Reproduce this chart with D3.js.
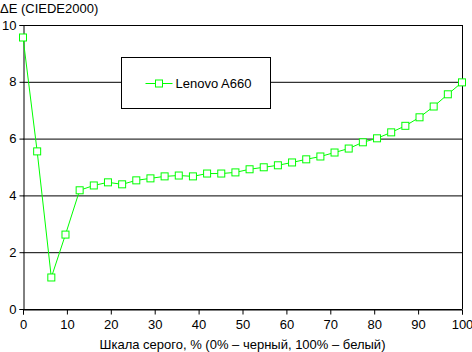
<!DOCTYPE html>
<html lang="ru">
<head>
  <meta charset="UTF-8">
  <title>ΔE (CIEDE2000)</title>
  <script src="https://d3js.org/d3.v7.min.js"></script>
  <style>
    body { margin: 0; background: #fff; }
    svg { display: block; font-family: "Liberation Sans", Arial, sans-serif; }
    .tick text { font-size: 13px; fill: #000; }
  </style>
</head>
<body>
<svg width="472" height="352"></svg>
<script>
  const seriesName = "Lenovo A660";
  const deltaE = [9.56, 5.55, 1.11, 2.62, 4.18, 4.35, 4.46, 4.39, 4.53, 4.60,
                  4.67, 4.70, 4.67, 4.77, 4.77, 4.81, 4.92, 4.99, 5.06, 5.16,
                  5.27, 5.37, 5.51, 5.65, 5.87, 6.01, 6.22, 6.45, 6.75, 7.13,
                  7.56, 7.98];
  const xTicks = [0, 10, 20, 30, 40, 50, 60, 70, 80, 90, 100];
  const yTicks = [0, 2, 4, 6, 8, 10];

  const data = deltaE.map((v, i) => ({x: i * 100 / (deltaE.length - 1), y: v}));

  const svg = d3.select("svg"),
        margin = {top: 25, right: 10, bottom: 43, left: 23},
        width = 472 - margin.left - margin.right,
        height = 352 - margin.top - margin.bottom;

  const chart = svg.append("g")
      .attr("transform", `translate(${margin.left},${margin.top})`);

  const x = d3.scaleLinear().domain([0, 100]).range([0, width]);
  const y = d3.scaleLinear().domain([0, 10]).range([height, 0]);

  // Grid lines
  chart.append("g")
      .selectAll("line")
      .data(yTicks)
      .enter().append("line")
      .attr("x1", 0).attr("x2", width)
      .attr("y1", d => y(d) + 0.5).attr("y2", d => y(d) + 0.5)
      .attr("stroke", "#000");

  // right border
  chart.append("line")
      .attr("x1", width + 0.5).attr("x2", width + 0.5)
      .attr("y1", 0).attr("y2", height)
      .attr("stroke", "#000");

  // Y-axis
  const yAxis = chart.append("g")
      .attr("transform", "translate(0.5,0)")
      .call(d3.axisLeft(y).tickValues(yTicks).tickSize(4).tickPadding(3).tickFormat(d3.format("d")));
  yAxis.select(".domain").attr("stroke", "#000");
  yAxis.selectAll(".tick line").attr("stroke", "#000");

  // X-axis
  const xAxis = chart.append("g")
      .attr("transform", `translate(0,${height + 0.5})`)
      .call(d3.axisBottom(x).tickValues(xTicks).tickSize(5).tickPadding(5).tickFormat(d3.format("d")));
  xAxis.select(".domain").attr("stroke", "#000");
  xAxis.selectAll(".tick line").attr("stroke", "#000");

  // Series line
  chart.append("path")
      .datum(data)
      .attr("fill", "none")
      .attr("stroke", "#00ff00")
      .attr("stroke-width", 1)
      .attr("d", d3.line().x(d => x(d.x)).y(d => y(d.y)));

  // Markers
  chart.selectAll(".marker")
      .data(data)
      .enter().append("rect")
      .attr("class", "marker")
      .attr("x", d => x(d.x) - 3.5)
      .attr("y", d => y(d.y) - 3.5)
      .attr("width", 7)
      .attr("height", 7)
      .attr("fill", "#fff")
      .attr("stroke", "#00ff00")
      .attr("stroke-width", 1);

  // Legend
  const legend = svg.append("g").attr("transform", "translate(121.5,57.5)");
  legend.append("rect")
      .attr("width", 149).attr("height", 51)
      .attr("fill", "#fff").attr("stroke", "#000");
  legend.append("line")
      .attr("x1", 24).attr("x2", 51).attr("y1", 26).attr("y2", 26)
      .attr("stroke", "#00ff00");
  legend.append("rect")
      .attr("x", 34).attr("y", 22.5).attr("width", 7).attr("height", 7)
      .attr("fill", "#fff").attr("stroke", "#00ff00");
  legend.append("text")
      .attr("x", 54).attr("y", 30.5)
      .style("font-size", "13px")
      .text(seriesName);

  // Axis titles
  svg.append("text")
      .attr("x", 0).attr("y", 13)
      .style("font-size", "13px")
      .text("ΔE (CIEDE2000)");

  svg.append("text")
      .attr("x", margin.left + width / 2)
      .attr("y", 349)
      .attr("text-anchor", "middle")
      .style("font-size", "13px")
      .text("Шкала серого, % (0% – черный, 100% – белый)");
</script>
</body>
</html>
